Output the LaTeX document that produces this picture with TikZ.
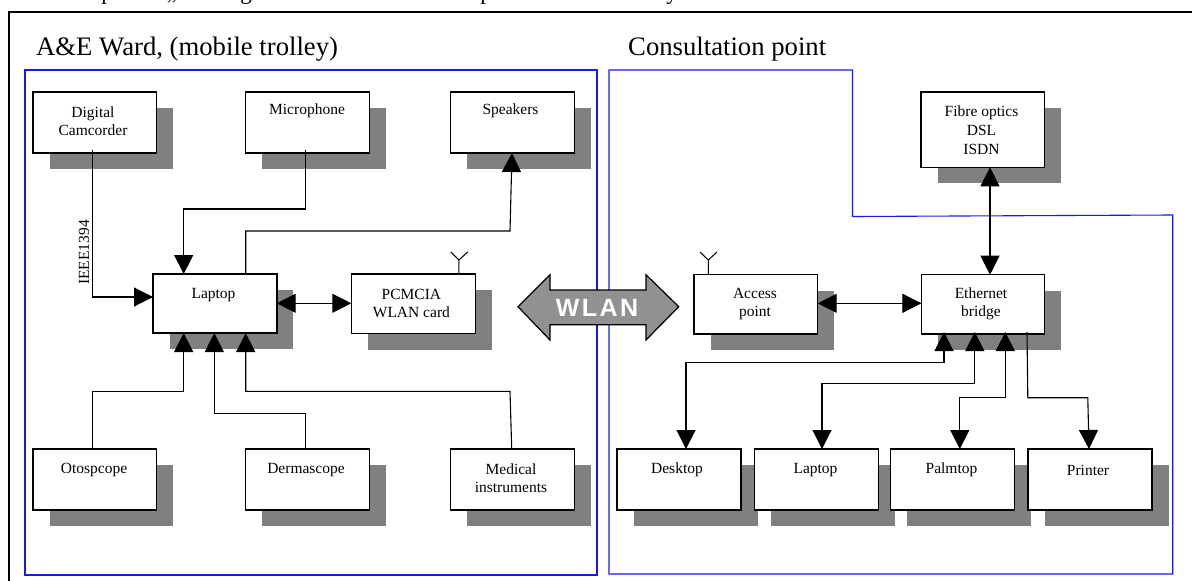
\documentclass[tikz,border=0pt]{standalone}
\usepackage{fontspec}
\setmainfont{Liberation Serif}
\newfontfamily\wlanfont[LetterSpace=10]{Liberation Sans}
\usetikzlibrary{arrows.meta}
\definecolor{shadowgray}{HTML}{808080}
\definecolor{wlangray}{HTML}{919191}
\definecolor{zoneblue}{HTML}{1A1AE6}
\tikzset{
  x=1pt,y=-1pt,
  zone/.style={draw=zoneblue,line width=1.1pt},
  frameline/.style={draw=black,line width=1.2pt},
  shadowbox/.style={fill=shadowgray},
  devbox/.style={draw=black,fill=white,line width=1.1pt},
  mainbox/.style={draw=black,fill=white,line width=2pt},
  lbl/.style={inner sep=0pt,align=center,font=\fontsize{15.5}{18}\selectfont},
  title/.style={inner sep=0pt,anchor=base west,font=\fontsize{26.7}{30}\selectfont},
  wire/.style={draw=black,line width=1.1pt},
  tip/.style={-{Triangle[length=19pt,width=19pt]}},
  bitip/.style={{Triangle[length=19pt,width=19pt]}-{Triangle[length=19pt,width=19pt]}},
  antenna/.style={draw=black,line width=1pt}
}
\newcommand{\dev}[6]{% name, x0,y0,x1,y1, style
  \fill[shadowbox] (#2+16.5,#3+16) rectangle (#4+16.5,#5+16);
  \path[#6] (#2,#3) rectangle (#4,#5);
  \coordinate (#1) at (#2,#3);
}
\begin{document}
\begin{tikzpicture}
\useasboundingbox (0,0) rectangle (1192,581);
% cut-off line of text above the frame
\begin{scope}
  \clip (0,0) rectangle (1192,10);
  \foreach \gx/\gt in {107/p,172/{,,},246/g,486/p,672/y}
    \node[inner sep=0pt,anchor=base,font=\fontsize{23}{26}\selectfont] at (\gx,-1) {\gt};
\end{scope}
% outer frame
\draw[frameline] (9,581) -- (9,12) -- (1192,12);
% zones
\draw[zone] (25,70) rectangle (597,575);
\draw[zone] (609,70) -- (852.5,70) -- (852.5,216.5) -- (1172.7,215) -- (1172.7,574) -- (609,574) -- cycle;
\node[title] (t1) at (36,55) {A\&E Ward, (mobile trolley)};
\node[title] (t2) at (628,55) {Consultation point};
% devices (shadow, box)
\dev{a}{33}{92}{156.5}{153}{devbox}
\dev{b}{245.7}{92}{369.7}{153}{devbox}
\dev{c}{450.8}{92}{574.4}{153}{devbox}
\dev{d}{33}{449}{156.5}{510}{devbox}
\dev{e}{245.7}{449}{369.7}{510}{devbox}
\dev{f}{450.8}{449}{574.4}{510}{devbox}
\dev{g}{351.3}{274}{475.3}{333.7}{devbox}
\dev{h}{694}{274.7}{817.7}{334}{devbox}
\dev{i}{921.4}{274.7}{1044.6}{334}{devbox}
\dev{j}{921}{92}{1044.7}{167.3}{devbox}
\dev{k}{617}{449}{741}{510}{devbox}
\dev{l}{754.6}{449}{878.6}{510}{devbox}
\dev{m}{890.5}{449}{1014.6}{510}{devbox}
\dev{n}{1028}{449}{1152}{510}{devbox}
\dev{o}{153}{274}{276.7}{333}{mainbox}
% connection points
\coordinate (p1) at (92.2,150);
\coordinate (p2) at (305.4,150);
\coordinate (q1) at (153,297);
\coordinate (q2) at (183.7,274);
\coordinate (q3) at (245.7,274);
\coordinate (q4) at (512,153);
\coordinate (r1) at (183.7,333);
\coordinate (r2) at (214.3,333);
\coordinate (r3) at (245.7,333);
\coordinate (s1) at (92.2,449);
\coordinate (s2) at (305.4,449);
\coordinate (s3) at (511.7,449);
% left connectors
\draw[wire,tip] (p1) |- (q1);
\draw[wire,tip] (p2) -- (305.4,209) -- (183.7,209) -- (q2);
\draw[wire,tip] (q3) -- (245.7,231) -- (510,231) -- (q4);
\draw[wire,tip] (s1) -- (92.2,391.3) -- (183.7,391.3) -- (r1);
\draw[wire,tip] (s2) -- (305.4,413.7) -- (214.3,413.7) -- (r2);
\draw[wire,tip] (s3) -- (510,391.3) -- (245.7,391.3) -- (r3);
\draw[wire,bitip] (276.7,303.3) -- (351.3,303.3);
% right connectors
\draw[wire,bitip] (817.7,303.3) -- (921.4,303.3);
\draw[wire,bitip] (990,167.3) -- (990,274.7);
\draw[wire,bitip] (944,332) -- (944,362.7) -- (686,362.7) -- (686,449);
\draw[wire,bitip] (974.8,332) -- (974.8,383.3) -- (822,383.3) -- (822,449);
\draw[wire,bitip] (1005.3,332) -- (1005.3,397.7) -- (959.8,397.7) -- (959.8,449);
\draw[wire,tip] (1027,332) -- (1027.8,397.7) -- (1087.8,397.7) -- (1089,449);
% antennas
\draw[antenna] (458.9,274) -- (458.9,260) -- (450.8,252) (458.9,260) -- (467.7,252);
\draw[antenna] (708.3,274.7) -- (708.3,260) -- (700,252) (708.3,260) -- (717,252);
% WLAN arrow
\path[draw=black,fill=wlangray,line width=1.2pt,line join=miter]
  (518,306.7) -- (550,274.7) -- (550,290) -- (646,290) -- (646,274.7) -- (678.7,306.7)
  -- (646,340) -- (646,324.7) -- (550,324.7) -- (550,340) -- cycle;
\node[inner sep=0pt,text=white,font=\wlanfont\bfseries\fontsize{25}{25}\selectfont] (wl) at (597,307.5) {WLAN};
% labels
\node[lbl] (la) at (93,121.5) {Digital\\Camcorder};
\node[lbl] (lb) at (307,111) {Microphone};
\node[lbl] (lc) at (510.5,111) {Speakers};
\node[lbl] (ld) at (94,470) {Otospcope};
\node[lbl] (le) at (306,470) {Dermascope};
\node[lbl] (lf) at (511,478.5) {Medical\\instruments};
\node[lbl] (lg) at (411.4,303.5) {PCMCIA\\WLAN card};
\node[lbl] (lh) at (755,304) {Access\\point};
\node[lbl] (li) at (981,304) {Ethernet\\bridge};
\node[lbl,font=\fontsize{15.5}{19}\selectfont] (lj) at (981.5,130) {Fibre optics\\DSL\\ISDN};
\node[lbl] (lk) at (677,470) {Desktop};
\node[lbl] (ll) at (815.5,470) {Laptop};
\node[lbl] (lm) at (951.5,470) {Palmtop};
\node[lbl] (ln) at (1088,470) {Printer};
\node[lbl] (lo) at (213.5,295) {Laptop};
\node[lbl,rotate=90] (lp) at (84,252.5) {IEEE1394};
\end{tikzpicture}
\end{document}
